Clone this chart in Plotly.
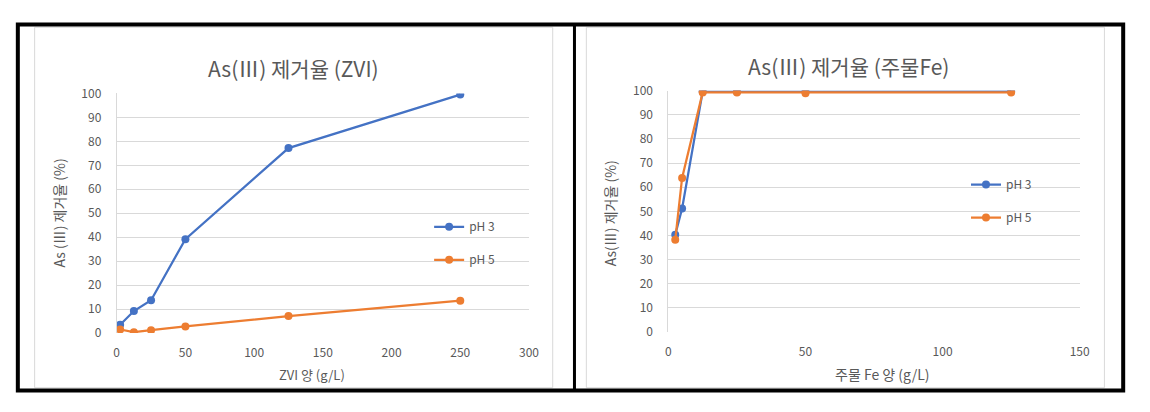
import plotly.graph_objects as go

W, H = 1150, 412

# ---- data ----
zvi_dose = [2.5, 12.5, 25, 50, 125, 250]
zvi_ph3 = [3.5, 9.2, 13.7, 39.2, 77.2, 99.5]
zvi_ph5 = [1.5, 0.4, 1.2, 2.8, 7.1, 13.5]

fe_dose = [2.5, 5, 12.5, 25, 50, 125]
fe_ph3 = [40.3, 51.2, 99.6, 99.5, 99.6, 99.7]
fe_ph5 = [38.2, 63.8, 99.2, 99.2, 98.9, 99.2]

series_names = ["pH 3", "pH 5"]
left_title = "As(Ⅲ) 제거율 (ZVI)"
right_title = "As(Ⅲ) 제거율 (주물Fe)"
left_xtitle = "ZVI 양 (g/L)"
right_xtitle = "주물 Fe 양 (g/L)"
left_ytitle = "As (Ⅲ) 제거율 (%)"
right_ytitle = "As(Ⅲ) 제거율 (%)"

BLUE = "#4472C4"
ORANGE = "#ED7D31"
GRID = "#D9D9D9"
TXT = "#595959"
FONT = "Noto Sans CJK KR"

def px(x):
    return x / W

def py(y):
    return 1 - y / H

fig = go.Figure()

def add_series(x, y, name, color, xa, ya, legend, group):
    fig.add_trace(go.Scatter(
        x=x, y=y, name=name, mode="lines+markers",
        line=dict(color=color, width=2.25),
        marker=dict(color=color, size=8, symbol="circle"),
        xaxis=xa, yaxis=ya, legend=legend, legendgroup=group,
    ))

add_series(zvi_dose, zvi_ph3, series_names[0], BLUE, "x", "y", "legend", "a1")
add_series(zvi_dose, zvi_ph5, series_names[1], ORANGE, "x", "y", "legend", "a2")
add_series(fe_dose, fe_ph3, series_names[0], BLUE, "x2", "y2", "legend2", "b1")
add_series(fe_dose, fe_ph5, series_names[1], ORANGE, "x2", "y2", "legend2", "b2")

axis_common = dict(
    showgrid=False, zeroline=False, showline=False,
    tickfont=dict(family=FONT, size=12, color=TXT),
    fixedrange=True, ticklabelstandoff=11,
)
yaxis_common = dict(
    range=[0, 100], dtick=10, showgrid=True, gridcolor=GRID, gridwidth=1,
    zeroline=False, showline=True, linecolor=GRID, linewidth=1,
    tickfont=dict(family=FONT, size=12, color=TXT),
    ticklabelstandoff=12,
)

fig.update_layout(
    width=W, height=H,
    margin=dict(l=0, r=0, t=0, b=0),
    paper_bgcolor="white", plot_bgcolor="white",
    font=dict(family=FONT, color=TXT),
    xaxis=dict(domain=[px(115), px(532)], range=[0, 300], dtick=50,
               anchor="y", **axis_common),
    yaxis=dict(domain=[py(337), py(87)], anchor="x", **yaxis_common),
    xaxis2=dict(domain=[px(673), px(1089)], range=[0, 150], dtick=50,
                anchor="y2", **axis_common),
    yaxis2=dict(domain=[py(336), py(84)], anchor="x2", **yaxis_common),
    legend=dict(x=px(431), y=py(211), xanchor="left", yanchor="top",
                bgcolor="rgba(0,0,0,0)", font=dict(family=FONT, size=12, color=TXT),
                itemwidth=30, tracegroupgap=14),
    legend2=dict(x=px(974), y=py(167), xanchor="left", yanchor="top",
                 bgcolor="rgba(0,0,0,0)", font=dict(family=FONT, size=12, color=TXT),
                 itemwidth=30, tracegroupgap=14),
    showlegend=True,
)

# titles as annotations
ann = [
    dict(text=left_title, x=px(294), y=py(60), size=21),
    dict(text=right_title, x=px(855), y=py(58), size=21),
    dict(text=left_xtitle, x=px(313), y=py(380), size=13),
    dict(text=right_xtitle, x=px(890), y=py(380), size=14),
]
for a in ann:
    fig.add_annotation(text=a["text"], x=a["x"], y=a["y"], xref="paper", yref="paper",
                       xanchor="center", yanchor="middle", showarrow=False,
                       font=dict(family=FONT, size=a["size"], color=TXT))
for t, x in [(left_ytitle, 57), (right_ytitle, 614)]:
    fig.add_annotation(text=t, x=px(x), y=py(212), xref="paper", yref="paper",
                       xanchor="center", yanchor="middle", showarrow=False, textangle=-90,
                       font=dict(family=FONT, size=14, color=TXT))

# chart-area borders and outer black frame
shapes = [
    dict(type="rect", x0=px(32), x1=px(556), y0=py(394), y1=py(18),
         line=dict(color=GRID, width=1)),
    dict(type="rect", x0=px(590), x1=px(1114), y0=py(394), y1=py(18),
         line=dict(color=GRID, width=1)),
    dict(type="rect", x0=px(15), x1=px(1133), y0=py(397), y1=py(15),
         line=dict(color="black", width=4)),
    dict(type="line", x0=px(578), x1=px(578), y0=py(397), y1=py(15),
         line=dict(color="black", width=3)),
]
for s in shapes:
    fig.add_shape(xref="paper", yref="paper", layer="above", **s)

fig.write_html("out.html")
